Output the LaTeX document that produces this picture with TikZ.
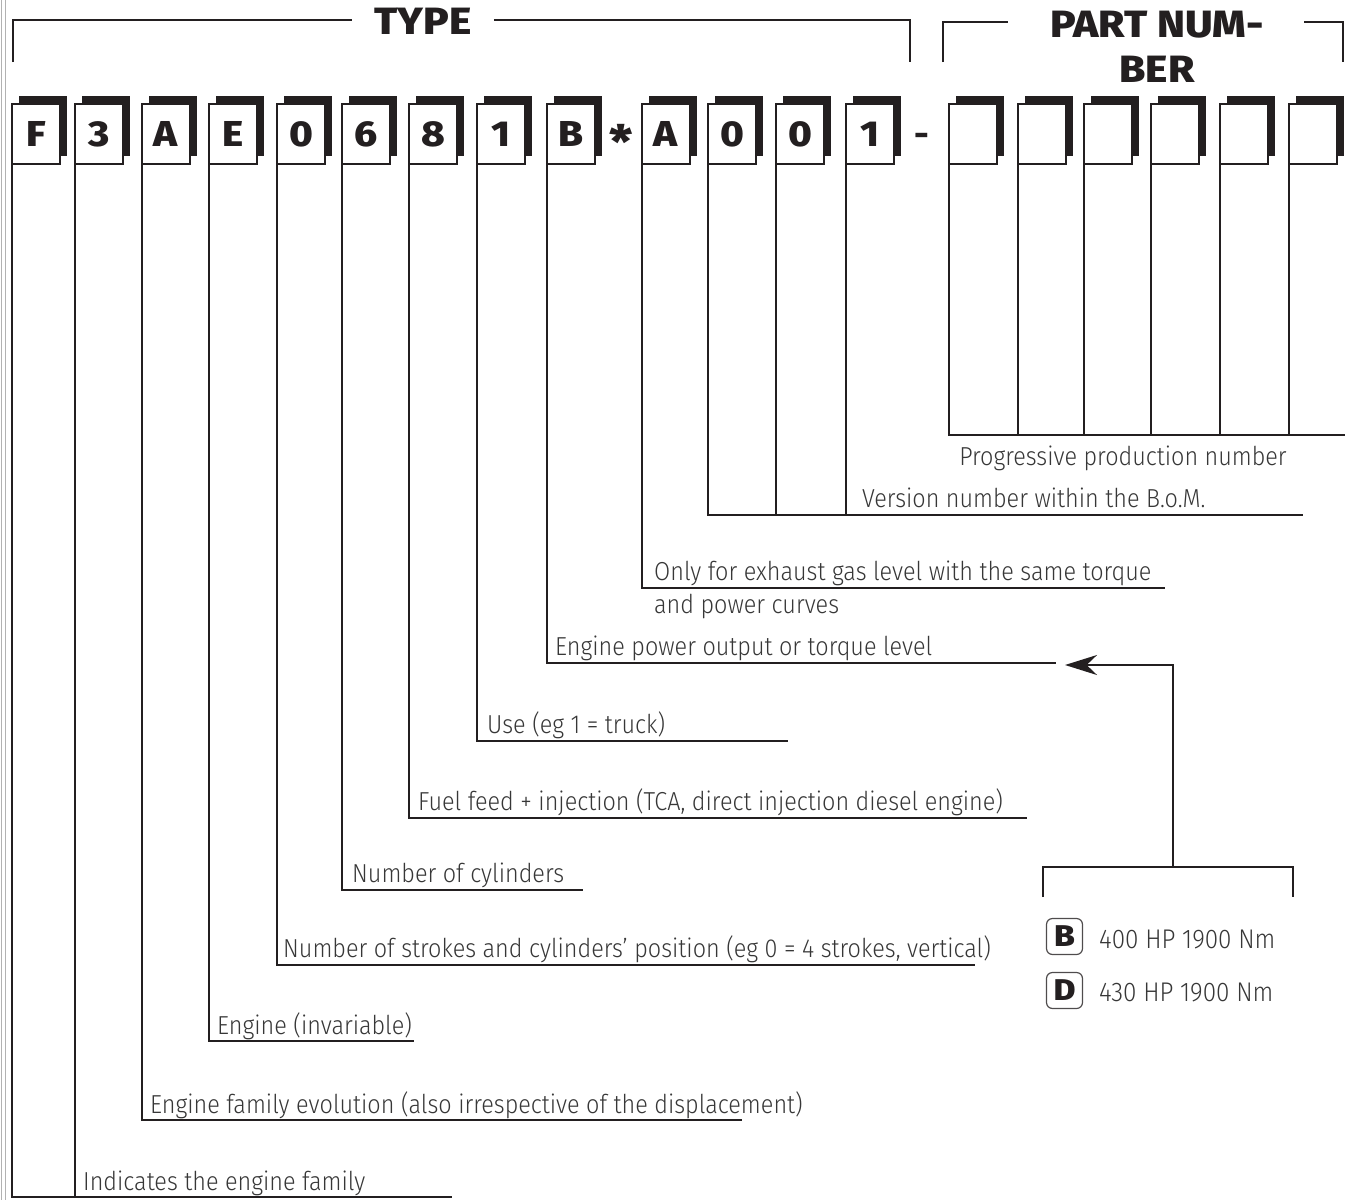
\documentclass[tikz,border=0pt]{standalone}
\usepackage{fontspec}
\setmainfont{Fira Sans}[UprightFont=* Light, BoldFont=* Bold]
\newfontfamily\labelfont{Fira Sans}[UprightFont=* Light, FakeStretch=0.9]
\IfFontExistsTF{Fira Sans ExtraBold}
   {\newfontfamily\heavyfont{Fira Sans ExtraBold}[FakeStretch=1.12]}
   {\newfontfamily\heavyfont{Fira Sans Bold}[FakeStretch=1.12]}
\usetikzlibrary{arrows.meta, shadows, positioning}
\definecolor{ink}{RGB}{35,31,32}
\definecolor{txt}{RGB}{55,55,55}

\begin{document}
\begin{tikzpicture}[x=1pt, y=-1pt, >=Stealth,
   digit/.style={
      % the code boxes with their black shadow
      rectangle, draw=ink, fill=white, line width=1.8pt,
      minimum width=48pt, minimum height=60pt, inner sep=0pt, outer sep=0pt,
      general shadow={fill=ink, shadow xshift=7pt, shadow yshift=8pt},
      text=ink, font=\heavyfont\fontsize{36}{36}\selectfont},
   lead/.style={draw=ink, line width=2.4pt},
   desc/.style={anchor=base west, inner sep=0pt, text=txt,
      font=\labelfont\fontsize{26}{30}\selectfont},
   head/.style={inner sep=0pt, text=ink, align=center,
      font=\heavyfont\fontsize{38}{45}\selectfont},
   key/.style={rectangle, rounded corners=6pt, draw=ink!80, line width=1.2pt,
      minimum size=36pt, inner sep=0pt, text=ink,
      font=\heavyfont\fontsize{30}{30}\selectfont}]
   \useasboundingbox (0,0) rectangle (1355,1200);
   % page edge
   \draw[gray!60, line width=1.2pt] (1.5,0) -- (1.5,1200);
   \draw[gray!60, line width=1.2pt] (5.5,0) -- (5.5,1200);

   % headers
   \node[head, anchor=base] (type) at (423,34) {TYPE};
   \node[head, anchor=north] (part) at (1157,11) {PART NUM-\\BER};
   \draw[lead] (13,62) |- ([xshift=-22pt]type.west |- 0,20);
   \draw[lead] ([xshift=22pt]type.east |- 0,20) -| (910,62);
   \coordinate (pl) at (1008,22);
   \coordinate (pr) at (1304,22);
   \draw[lead] (943,62) |- (pl);
   \draw[lead] (pr) -| (1343,62);

   % code boxes
   \foreach \x/\c [count=\i] in {11/F,74/3,141/A,208/E,276/0,341/6,408/8,476/1,546/B,641/A,707/0,775/0,845/1} {
      \node[digit] (b\i) at (\x+25,134) {\c};
   };
   \foreach \x [count=\i] in {948,1017,1083,1150,1219,1288} {
      \node[digit] (p\i) at (\x+25,134) {};
   };
   \node[anchor=base, inner sep=0pt, text=ink, font=\heavyfont\fontsize{46}{46}\selectfont] (star) at (621,158) {*};
   \node[anchor=base, inner sep=0pt, text=ink, font=\heavyfont\fontsize{32}{32}\selectfont] (dash) at (922,145) {-};

   % leads and descriptions
   \coordinate (e1) at (452,1197);
   \draw[lead] (b1.south west) |- (e1);
   \draw[lead] (b2.south west) -- (b2.south west |- e1);
   \node[desc] (t1) at (83,1190) {Indicates the engine family};

   \coordinate (e3) at (742,1120);
   \draw[lead] (b3.south west) |- (e3);
   \node[desc] (t3) at (150,1113) {Engine family evolution (also irrespective of the displacement)};

   \coordinate (e4) at (414,1041);
   \draw[lead] (b4.south west) |- (e4);
   \node[desc] (t4) at (217,1034) {Engine (invariable)};

   \coordinate (e5) at (975,965);
   \draw[lead] (b5.south west) |- (e5);
   \node[desc] (t5) at (283,957) {Number of strokes and cylinders’ position (eg 0 = 4 strokes, vertical)};

   \coordinate (e6) at (583,890);
   \draw[lead] (b6.south west) |- (e6);
   \node[desc] (t6) at (352,882) {Number of cylinders};

   \coordinate (e7) at (1027,818);
   \draw[lead] (b7.south west) |- (e7);
   \node[desc] (t7) at (418,810) {Fuel feed + injection (TCA, direct injection diesel engine)};

   \coordinate (e8) at (788,741);
   \draw[lead] (b8.south west) |- (e8);
   \node[desc] (t8) at (487,733) {Use (eg 1 = truck)};

   \coordinate (e9) at (1056,663);
   \draw[lead] (b9.south west) |- (e9);
   \node[desc] (t9) at (555,655) {Engine power output or torque level};

   \coordinate (e10) at (1165,588);
   \draw[lead] (b10.south west) |- (e10);
   \node[desc] (t10) at (654,580) {Only for exhaust gas level with the same torque};
   \node[desc] (t10b) at (654,613) {and power curves};

   \coordinate (e11) at (1303,515);
   \draw[lead] (b11.south west) |- (e11);
   \draw[lead] (b12.south west) -- (b12.south west |- e11);
   \draw[lead] (b13.south west) -- (b13.south west |- e11);
   \node[desc] (t11) at (862,507) {Version number within the B.o.M.};

   \coordinate (e12) at (1345,435);
   \draw[lead] (p1.south west) |- (e12);
   \foreach \i in {2,...,6} {
      \draw[lead] (p\i.south west) -- (p\i.south west |- e12);
   };
   \node[desc, anchor=base] (t12) at (1123,465) {Progressive production number};

   % power key
   \coordinate (kt) at (1173,867);
   \coordinate (ka) at (1065,665);
   \draw[lead] (1043,897) -- (1043,867) -- (1293,867) -- (1293,897);
   \draw[lead, -{Stealth[length=32pt, width=20pt]}] (kt) |- (ka);
   \node[key] (kb) at (1064.5,936.5) {B};
   \node[key] (kd) at (1064.5,990.5) {D};
   \node[desc, font=\labelfont\fontsize{27}{30}\selectfont] (tb) at (1099,948) {400 HP 1900 Nm};
   \node[desc, font=\labelfont\fontsize{27}{30}\selectfont] (td) at (1099,1001) {430 HP 1900 Nm};
\end{tikzpicture}
\end{document}
